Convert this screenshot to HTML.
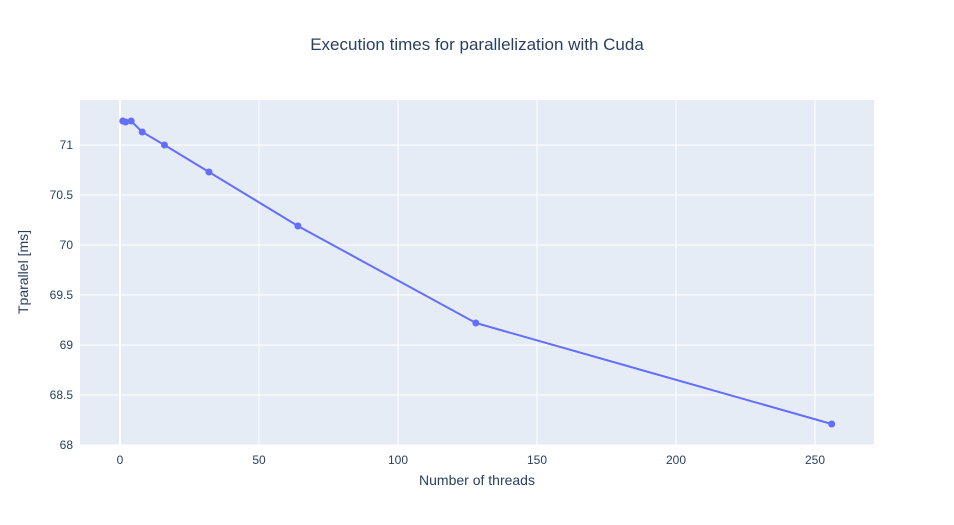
<!DOCTYPE html>
<html><head><meta charset="utf-8"><style>
body{margin:0;background:#fff;}
svg{display:block;font-family:"Liberation Sans",Arial,sans-serif;}
</style></head><body>
<svg id="chart" width="954" height="525">
<rect x="0" y="0" width="954" height="525" fill="#fff"/>
<rect x="80" y="100" width="794" height="345" fill="#e5ecf6"/>
<g id="grid"></g>
<g id="ticks"></g>
<g id="series"></g>
<text x="477" y="50" text-anchor="middle" font-size="17" fill="#2a3f5f">Execution times for parallelization with Cuda</text>
<text x="477" y="485" text-anchor="middle" font-size="14" fill="#2a3f5f">Number of threads</text>
<text x="28" y="272" text-anchor="middle" font-size="14" fill="#2a3f5f" transform="rotate(-90 28 272)">Tparallel [ms]</text>
</svg>
<script>
const threads=[1,2,4,8,16,32,64,128,256];
const times=[71.24,71.23,71.24,71.13,71.0,70.73,70.19,69.22,68.21];
const xTicks=[0,50,100,150,200,250];
const yTicks=[68,68.5,69,69.5,70,70.5,71];
const yTickLabels=["68","68.5","69","69.5","70","70.5","71"];
const NS="http://www.w3.org/2000/svg";
const xs=v=>120+v*2.78;
const ys=v=>445-(v-68)*100;
function mk(t,a,p){const e=document.createElementNS(NS,t);for(const k in a)e.setAttribute(k,a[k]);p.appendChild(e);return e;}
const grid=document.getElementById('grid'),ticks=document.getElementById('ticks'),ser=document.getElementById('series');
xTicks.forEach(v=>{
 const l=mk('line',{x1:xs(v),x2:xs(v),y1:100,y2:445,stroke:'#fff','stroke-width':v===0?2:1},grid);
 
 
 const t=mk('text',{x:xs(v),y:464,'text-anchor':'middle','font-size':12,fill:'#2a3f5f'},ticks);
 t.textContent=v;
 
 
});
yTicks.forEach((v,i)=>{
 const l=mk('line',{x1:80,x2:874,y1:ys(v),y2:ys(v),stroke:'#fff','stroke-width':1},grid);
 
 
 const t=mk('text',{x:73,y:ys(v)+4,'text-anchor':'end','font-size':12,fill:'#2a3f5f'},ticks);
 t.textContent=yTickLabels[i];
 
 
});
const pl=mk('polyline',{points:threads.map((x,i)=>xs(x)+','+ys(times[i])).join(' '),fill:'none',stroke:'#636efa','stroke-width':2},ser);


threads.forEach((x,i)=>{
 const c=mk('circle',{cx:xs(x),cy:ys(times[i]),r:3.5,fill:'#636efa'},ser);
 
 
});
</script>
</body></html>
